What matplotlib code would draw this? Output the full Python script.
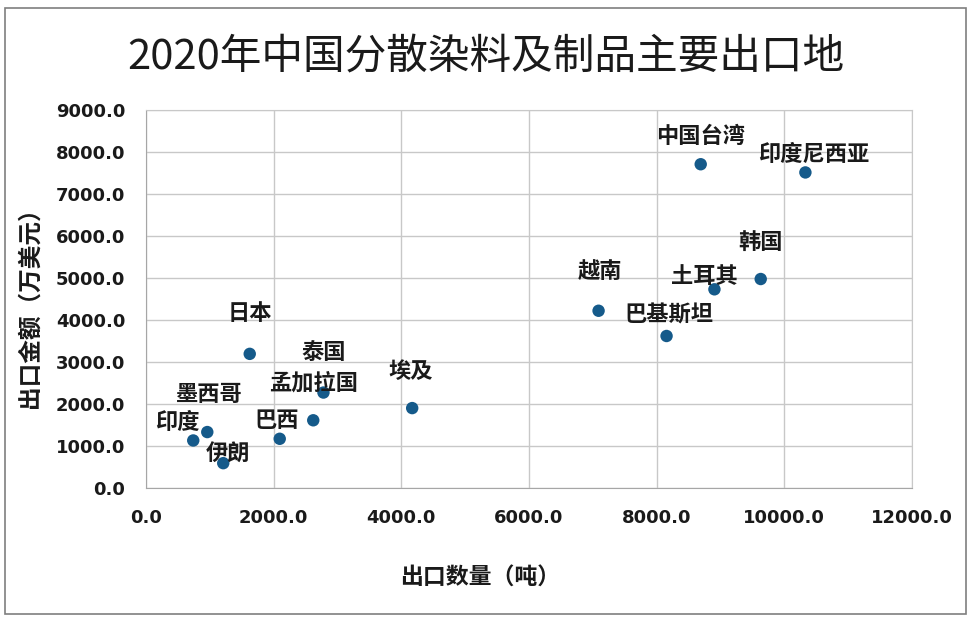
import matplotlib
matplotlib.use("Agg")
import matplotlib.pyplot as plt
from matplotlib.patches import Rectangle

plt.rcParams['font.family'] = ['Noto Sans CJK SC', 'DejaVu Sans']

# Data
countries = ['印度', '墨西哥', '伊朗', '日本', '巴西', '孟加拉国', '泰国', '埃及',
             '中国台湾', '印度尼西亚', '韩国', '土耳其', '越南', '巴基斯坦']
quantity = [740, 960, 1210, 1625, 2095, 2620, 2780, 4170,
            8690, 10330, 9630, 8905, 7090, 8155]
value = [1140, 1340, 600, 3200, 1180, 1620, 2280, 1910,
         7710, 7515, 4980, 4735, 4225, 3625]
# label offsets in pixels (style)
offsets = [(-16, 18), (2, 38), (5, 9), (0, 40), (-3, 18), (0, 37), (0, 40), (-1, 37),
           (0, 28), (8, 18), (0, 37), (-10, 13), (1, 39), (2, 21)]

xticks = [0, 2000, 4000, 6000, 8000, 10000, 12000]
yticks = [0, 1000, 2000, 3000, 4000, 5000, 6000, 7000, 8000, 9000]

fig = plt.figure(figsize=(9.72, 6.24), dpi=100)
fig.patch.set_facecolor('white')
fig.patches.append(Rectangle((5/972, 10/624), 961/972, 606/624, transform=fig.transFigure,
                             fill=False, edgecolor='#7f7f7f', linewidth=1.2))

ax = fig.add_axes([146/972, 1 - 488.4/624, 766/972, 378.4/624])
ax.scatter(quantity, value, s=80, color='#155a8a', zorder=3, edgecolors='none')
for name, x, y, (dx, dy) in zip(countries, quantity, value, offsets):
    ax.annotate(name, (x, y), xytext=(dx, dy), textcoords='offset pixels',
                ha='center', va='center', fontsize=16, fontweight='bold', color='#1a1a1a')

ax.set_xlim(0, 12000)
ax.set_ylim(0, 9000)
ax.set_xticks(xticks)
ax.set_yticks(yticks)
ax.set_xticklabels([f'{v:.1f}' for v in xticks], fontfamily='DejaVu Sans', fontweight='bold', fontsize=13)
ax.set_yticklabels([f'{v:.1f}' for v in yticks], fontfamily='DejaVu Sans', fontweight='bold', fontsize=13)
ax.tick_params(length=0, pad=15, colors='#1a1a1a')
ax.grid(True, color='#c8c8c8', linewidth=1)
ax.set_axisbelow(True)
for side in ['top', 'right']:
    ax.spines[side].set_color('#c8c8c8')
for side in ['left', 'bottom']:
    ax.spines[side].set_color('#a6a6a6')

fig.text(486/972, 1 - 57/624, '2020年中国分散染料及制品主要出口地', ha='center', va='center',
         fontsize=30, color='#1a1a1a')
fig.text(480/972, 1 - 578/624, '出口数量（吨）', ha='center', va='center',
         fontsize=16.5, fontweight='bold', color='#1a1a1a')
fig.text(30/972, 1 - 302/624, '出口金额（万美元）', ha='center', va='center', rotation=90,
         fontsize=17, fontweight='bold', color='#1a1a1a')

fig.savefig('out.png', dpi=100, facecolor='white')
